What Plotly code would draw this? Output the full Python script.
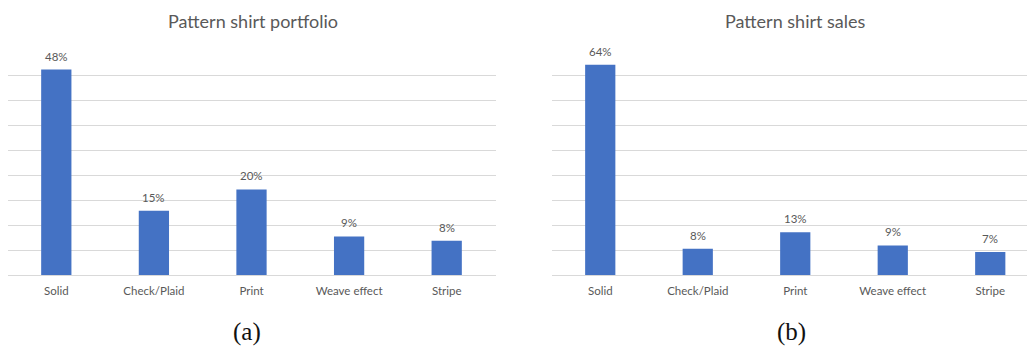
import plotly.graph_objects as go

# Shirt pattern categories and shares (percent)
categories = ["Solid", "Check/Plaid", "Print", "Weave effect", "Stripe"]
portfolio_pct = [48, 15, 20, 9, 8]
sales_pct = [64, 8, 13, 9, 7]

titles = ["Pattern shirt portfolio", "Pattern shirt sales"]
panel_tags = ["(a)", "(b)"]

W, H = 1027, 347
BAR_COLOR = "#4472C4"
GRID_COLOR = "#D9D9D9"
TEXT_COLOR = "#595959"
FONT = "Lato"

# pixel layout of the two panels
base_px, top_px = 275.0, 50.5
ydom = [(H - base_px) / H, (H - top_px) / H]
left_dom = [7.5 / W, 495.5 / W]
right_dom = [551.5 / W, 1.0]
slot_px = 97.5
right_xmax = -0.5 + (W - 551.5) / slot_px

# vertical scale (percent per full plot height) of each panel
y_tops = [52.45, 68.3]

fig = go.Figure()

series = [portfolio_pct, sales_pct]
for i, vals in enumerate(series):
    xa = "x" if i == 0 else "x2"
    ya = "y" if i == 0 else "y2"
    fig.add_trace(go.Bar(
        x=categories, y=vals, xaxis=xa, yaxis=ya,
        marker=dict(color=BAR_COLOR, line=dict(width=0)),
        width=0.31, hoverinfo="skip", showlegend=False,
    ))
    for c, v in zip(categories, vals):
        fig.add_annotation(
            x=c, y=v, xref=xa, yref=ya, text=f"{v}%", showarrow=False,
            yanchor="middle", yshift=13.5,
            font=dict(family=FONT, size=11.5, color=TEXT_COLOR),
        )

axis_common = dict(
    showgrid=False, zeroline=False, showline=False, ticks="",
    tickfont=dict(family=FONT, size=11.5, color=TEXT_COLOR),
    ticklabelstandoff=7, fixedrange=True,
)
yaxis_common = dict(
    showgrid=True, gridcolor=GRID_COLOR, gridwidth=1,
    zeroline=True, zerolinecolor=GRID_COLOR, zerolinewidth=1,
    showticklabels=False, ticks="", fixedrange=True,
)

fig.update_layout(
    width=W, height=H,
    margin=dict(l=0, r=0, t=0, b=0),
    paper_bgcolor="white", plot_bgcolor="white",
    bargap=0.69,
    xaxis=dict(domain=left_dom, range=[-0.5, 4.5], anchor="y", **axis_common),
    yaxis=dict(domain=ydom, range=[0, y_tops[0]], tick0=0,
               dtick=y_tops[0] / 9, anchor="x", **yaxis_common),
    xaxis2=dict(domain=right_dom, range=[-0.5, right_xmax], anchor="y2", **axis_common),
    yaxis2=dict(domain=ydom, range=[0, y_tops[1]], tick0=0,
                dtick=y_tops[1] / 9, anchor="x2", **yaxis_common),
)

# panel titles
for cx, t in zip([252.5, 795.0], titles):
    fig.add_annotation(
        x=cx / W, y=(H - 21) / H, xref="paper", yref="paper",
        text=t, showarrow=False, xanchor="center", yanchor="middle",
        font=dict(family=FONT, size=18, color=TEXT_COLOR),
    )

# panel tags below the charts
for cx, t in zip([246.7, 791.7], panel_tags):
    fig.add_annotation(
        x=cx / W, y=(H - 331.5) / H, xref="paper", yref="paper",
        text=t, showarrow=False, xanchor="center", yanchor="middle",
        font=dict(family="Liberation Serif", size=25, color="#111111"),
    )

fig.write_html("out.html")
